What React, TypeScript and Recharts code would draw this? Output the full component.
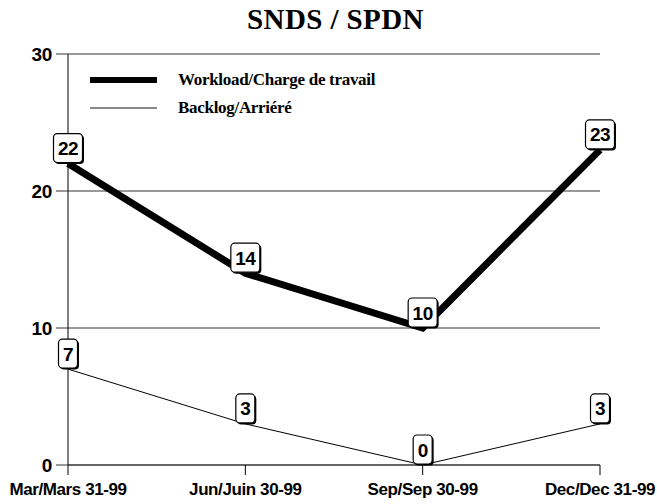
import React from 'react';
import { LineChart, Line, XAxis, YAxis, CartesianGrid, Legend } from 'recharts';

const categories = ['Mar/Mars 31-99', 'Jun/Juin 30-99', 'Sep/Sep 30-99', 'Dec/Dec 31-99'];
const workload = [22, 14, 10, 23];
const backlog = [7, 3, 0, 3];
const yTicks = [0, 10, 20, 30];
const seriesNames = ['Workload/Charge de travail', 'Backlog/Arriéré'];
const seriesKeys = ['workload', 'backlog'];

const data = categories.map((c, i) => ({ cat: c, workload: workload[i], backlog: backlog[i] }));

const SANS = '"Liberation Sans", Arial, sans-serif';
const SERIF = '"Liberation Serif", "Times New Roman", serif';

const BoxLabel = (props: any) => {
  const { x, y, value } = props;
  if (x == null || y == null) return null;
  const s = String(value);
  const w = s.length > 1 ? 29 : 19;
  const h = 29;
  const bx = x - w / 2;
  const by = y - h - 1;
  return (
    <g>
      <rect x={bx + 1.5} y={by + 1.5} width={w} height={h} rx={4} ry={4} fill="#000" />
      <rect x={bx} y={by} width={w} height={h} rx={4} ry={4} fill="#fff" stroke="#000" strokeWidth={1.2} />
      <text x={x} y={by + h / 2 + 7} textAnchor="middle" fontFamily={SANS} fontWeight="bold" fontSize={19} fill="#000" letterSpacing={-0.5}>
        {s}
      </text>
    </g>
  );
};

const LegendContent = (props: any) => {
  const { payload } = props;
  const items = [...(payload || [])].sort(
    (a: any, b: any) => seriesKeys.indexOf(a.dataKey) - seriesKeys.indexOf(b.dataKey)
  );
  return (
    <div style={{ position: 'relative' }}>
      {items.map((p: any, i: number) => (
        <div key={i} style={{ display: 'flex', alignItems: 'center', height: 28 }}>
          <div style={{ width: 67, height: p.dataKey === 'workload' ? 6 : 2, background: p.dataKey === 'workload' ? '#000' : '#888' }} />
          <span style={{ marginLeft: 21, fontFamily: SERIF, fontWeight: 'bold', fontSize: 17, color: '#000', letterSpacing: -0.3 }}>
            {p.value}
          </span>
        </div>
      ))}
    </div>
  );
};

export default function App() {
  return (
    <div style={{ position: 'absolute', left: 0, top: 0, width: 657, height: 504, background: '#fff' }}>
      <div style={{ position: 'absolute', left: 0, top: 3, width: 671, textAlign: 'center', fontFamily: SERIF, fontWeight: 'bold', fontSize: 29, color: '#000', letterSpacing: 0.4 }}>
        SNDS / SPDN
      </div>
      <LineChart width={657} height={504} data={data} margin={{ top: 54, right: 57, left: 0, bottom: 0 }}>
        <CartesianGrid vertical={false} stroke="#333" strokeWidth={1} />
        <XAxis
          dataKey="cat"
          scale="point"
          padding={{ left: 0, right: 0 }}
          height={39}
          tickSize={10}
          tickMargin={8}
          axisLine={{ stroke: '#333' }}
          tickLine={{ stroke: '#000' }}
          interval={0}
          tick={{ fontFamily: SANS, fontWeight: 'bold', fontSize: 17, fill: '#000', letterSpacing: -0.4 }}
        />
        <YAxis
          domain={[0, 30]}
          ticks={yTicks}
          width={68}
          tickSize={12}
          tickMargin={4}
          axisLine={{ stroke: '#000' }}
          tickLine={{ stroke: '#333' }}
          tick={{ fontFamily: SANS, fontWeight: 'bold', fontSize: 19, fill: '#000', letterSpacing: -0.3 }}
        />
        <Legend
          layout="vertical"
          align="center"
          verticalAlign="middle"
          wrapperStyle={{ top: 66, left: 90, width: 300 }}
          content={<LegendContent />}
        />
        <Line
          name={seriesNames[0]}
          dataKey="workload"
          stroke="#000"
          strokeWidth={7}
          dot={false}
          activeDot={false}
          isAnimationActive={false}
          label={<BoxLabel />}
          strokeLinejoin="miter"
        />
        <Line
          name={seriesNames[1]}
          dataKey="backlog"
          stroke="#000"
          strokeWidth={1}
          dot={false}
          activeDot={false}
          isAnimationActive={false}
          label={<BoxLabel />}
        />
      </LineChart>
    </div>
  );
}
